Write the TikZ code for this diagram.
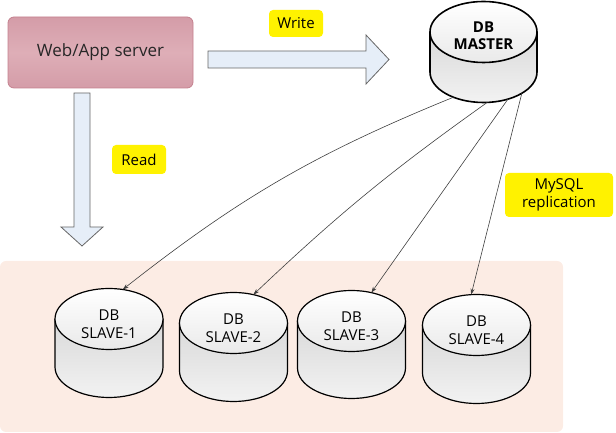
\documentclass[tikz,border=0pt]{standalone}
\usepackage{fontspec}
\setmainfont{Open Sans}
\usetikzlibrary{shapes.geometric,arrows.meta,backgrounds}

\definecolor{slavebg}{RGB}{252,236,228}
\definecolor{srvpink}{RGB}{212,156,168}
\definecolor{srvlight}{RGB}{222,174,183}
\definecolor{srvedge}{RGB}{196,128,142}
\definecolor{arrfill}{RGB}{230,238,248}

\tikzset{
  server/.style={rectangle,rounded corners=6pt,draw=srvedge,line width=0.8pt,
    top color=srvpink,bottom color=srvpink,middle color=srvlight,
    minimum width=185,minimum height=71,font=\fontsize{17}{20}\selectfont,text=black!85},
  blockarr/.style={draw=black!60,line width=0.8pt,fill=arrfill,line join=miter},
  dbtop/.style={ellipse,draw=black,line width=1.2pt,inner sep=0pt,outer sep=0pt,
    minimum width=108,minimum height=61,top color=white,bottom color=gray!17},
  dbtext/.style={align=center,yshift=-5pt,font=\fontsize{15}{18}\selectfont},
  dbbody/.style={draw=black,top color=gray!30,bottom color=gray!10}
}

\begin{document}
\begin{tikzpicture}[x=1pt,y=1pt]
\useasboundingbox (0,0) rectangle (616,433);

\node[server] (web) at (100.5,380.5) {Web/App server};

% labels
\begin{scope}[every node/.style={fill=yellow,rounded corners=4pt,inner sep=0pt,
    align=center,font=\fontsize{15}{18}\selectfont}]
    \node[minimum width=54,minimum height=27] (wlab) at (296,409.5) {Write};
    \node[minimum width=54,minimum height=29] (rlab) at (139,273.5) {Read};
    \node[minimum width=108,minimum height=44] (mlab) at (559,238) {MySQL\\replication};
\end{scope}

% databases
\node[dbtop,label={[dbtext]center:{DB\\SLAVE-1}}] (s1) at (109,114) {};
\node[dbtop,label={[dbtext]center:{DB\\SLAVE-2}}] (s2) at (233.5,110) {};
\node[dbtop,label={[dbtext]center:{DB\\SLAVE-3}}] (s3) at (351.5,112) {};
\node[dbtop,label={[dbtext]center:{DB\\SLAVE-4}}] (s4) at (476.5,108) {};
\node[dbtop,line width=1.6pt,minimum width=107,
      label={[dbtext,yshift=1pt,font=\bfseries\fontsize{15}{17}\selectfont]center:{DB\\MASTER}}] (m) at (483.5,401) {};
% bottom rim of the master
\node[ellipse,inner sep=0pt,outer sep=0pt,minimum width=107,minimum height=61] (mbase) at (483.5,361) {};

\begin{scope}[on background layer]
    \fill[slavebg,rounded corners=6pt] (0,1) rectangle (563,172);
    \path[dbbody,line width=1.6pt] (m.west) -- ++(0,-40) arc[start angle=180,end angle=360,x radius=53.5,y radius=30.5] -- (m.east);
    \path[dbbody,line width=1.2pt] (s1.west) -- ++(0,-48) arc[start angle=180,end angle=360,x radius=54,y radius=30.5] -- (s1.east);
    \path[dbbody,line width=1.2pt] (s2.west) -- ++(0,-48) arc[start angle=180,end angle=360,x radius=54,y radius=30.5] -- (s2.east);
    \path[dbbody,line width=1.2pt] (s3.west) -- ++(0,-47) arc[start angle=180,end angle=360,x radius=54,y radius=30.5] -- (s3.east);
    \path[dbbody,line width=1.2pt] (s4.west) -- ++(0,-48) arc[start angle=180,end angle=360,x radius=54,y radius=30.5] -- (s4.east);
\end{scope}

% write / read
\draw[blockarr] (208,382) -- (366,382) -- (366,398) -- (389,373.5) -- (366,349) -- (366,365) -- (208,365) -- cycle;
\draw[blockarr] (74,340) -- (90,340) -- (90,206) -- (103,206) -- (82,187) -- (61,206) -- (74,206) -- cycle;

% replication
\begin{scope}[>={Stealth[length=6pt,width=4pt]},
              every edge/.style={draw=black!75,line width=0.6pt}]
    \path [->] (mbase.220) edge[bend right=8] (s1.65);
    \path [->] (mbase.277) edge[bend right=4] (s2.55);
    \path [->] (mbase.312) edge (s3.55);
    \path [->] (mbase.331) edge (s4.100);
\end{scope}
\end{tikzpicture}
\end{document}
